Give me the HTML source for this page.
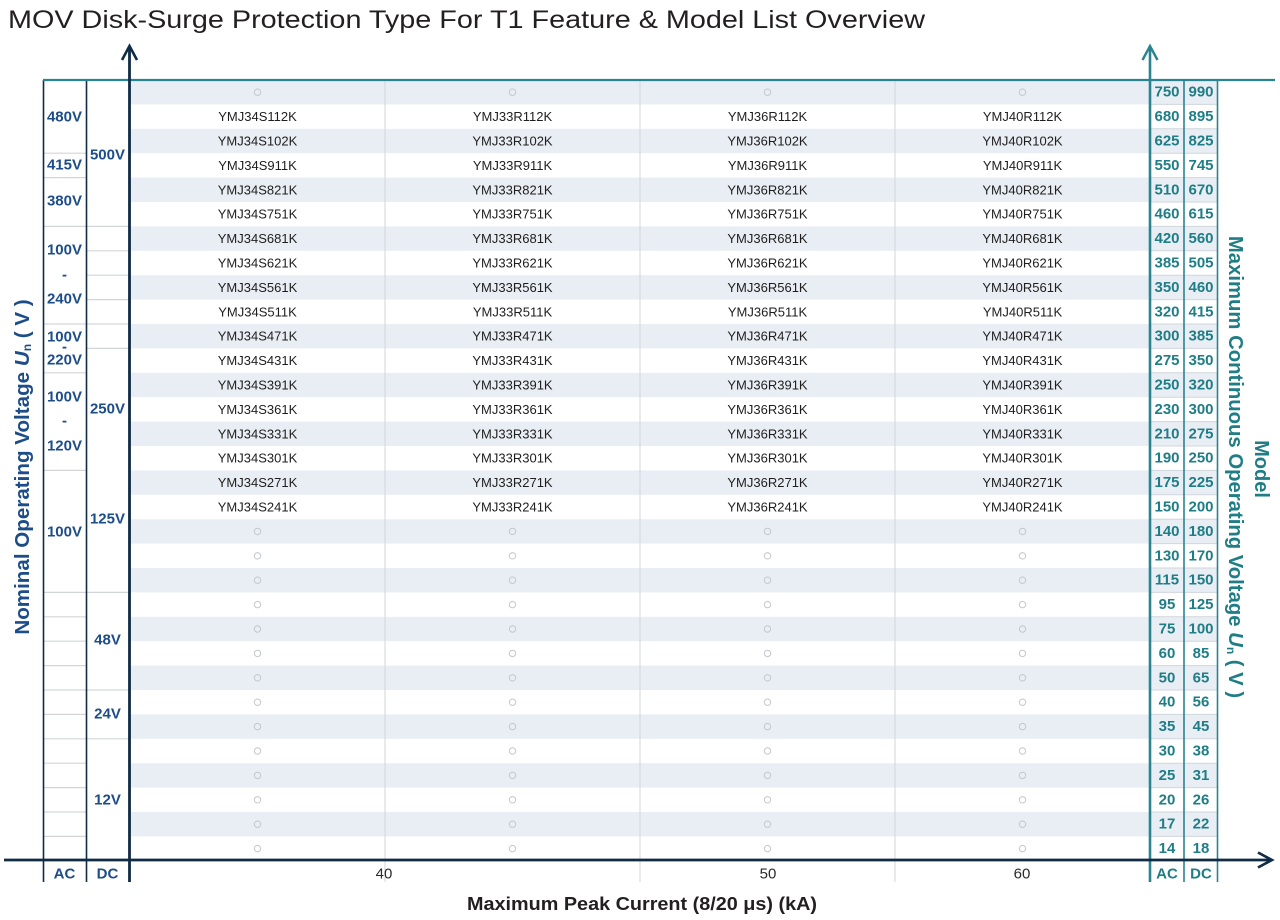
<!DOCTYPE html>
<html><head><meta charset="utf-8"><style>
html,body{margin:0;padding:0;background:#fff;}
svg{display:block;}
</style></head><body>
<svg width="1280" height="920" viewBox="0 0 1280 920" xmlns="http://www.w3.org/2000/svg" font-family="Liberation Sans, Arial, sans-serif">
<rect width="1280" height="920" fill="#fff"/>
<!-- title -->
<text x="8" y="28" font-size="25" fill="#231f20" textLength="917" lengthAdjust="spacingAndGlyphs">MOV Disk-Surge Protection Type For T1 Feature &amp; Model List Overview</text>

<!-- stripes -->
<g fill="#e9eef4">
<rect x="130" y="80" width="1088" height="24.4"/>
<rect x="130" y="128.8" width="1088" height="24.4"/>
<rect x="130" y="177.6" width="1088" height="24.4"/>
<rect x="130" y="226.4" width="1088" height="24.4"/>
<rect x="130" y="275.2" width="1088" height="24.4"/>
<rect x="130" y="324" width="1088" height="24.4"/>
<rect x="130" y="372.8" width="1088" height="24.4"/>
<rect x="130" y="421.6" width="1088" height="24.4"/>
<rect x="130" y="470.4" width="1088" height="24.4"/>
<rect x="130" y="519.2" width="1088" height="24.4"/>
<rect x="130" y="568" width="1088" height="24.4"/>
<rect x="130" y="616.8" width="1088" height="24.4"/>
<rect x="130" y="665.6" width="1088" height="24.4"/>
<rect x="130" y="714.4" width="1088" height="24.4"/>
<rect x="130" y="763.2" width="1088" height="24.4"/>
<rect x="130" y="812" width="1088" height="24.4"/>
</g>

<!-- vertical gridlines -->
<g stroke="#d2d6db" stroke-width="1">
<line x1="385" y1="81" x2="385" y2="882"/>
<line x1="640" y1="81" x2="640" y2="882"/>
<line x1="895" y1="81" x2="895" y2="882"/>
</g>

<!-- right column separators -->
<g stroke="#cfd6dc" stroke-width="1">
<line x1="1150" y1="104.4" x2="1218" y2="104.4"/>
<line x1="1150" y1="128.8" x2="1218" y2="128.8"/>
<line x1="1150" y1="153.2" x2="1218" y2="153.2"/>
<line x1="1150" y1="177.6" x2="1218" y2="177.6"/>
<line x1="1150" y1="202" x2="1218" y2="202"/>
<line x1="1150" y1="226.4" x2="1218" y2="226.4"/>
<line x1="1150" y1="250.8" x2="1218" y2="250.8"/>
<line x1="1150" y1="275.2" x2="1218" y2="275.2"/>
<line x1="1150" y1="299.6" x2="1218" y2="299.6"/>
<line x1="1150" y1="324" x2="1218" y2="324"/>
<line x1="1150" y1="348.4" x2="1218" y2="348.4"/>
<line x1="1150" y1="372.8" x2="1218" y2="372.8"/>
<line x1="1150" y1="397.2" x2="1218" y2="397.2"/>
<line x1="1150" y1="421.6" x2="1218" y2="421.6"/>
<line x1="1150" y1="446" x2="1218" y2="446"/>
<line x1="1150" y1="470.4" x2="1218" y2="470.4"/>
<line x1="1150" y1="494.8" x2="1218" y2="494.8"/>
<line x1="1150" y1="519.2" x2="1218" y2="519.2"/>
<line x1="1150" y1="543.6" x2="1218" y2="543.6"/>
<line x1="1150" y1="568" x2="1218" y2="568"/>
<line x1="1150" y1="592.4" x2="1218" y2="592.4"/>
<line x1="1150" y1="616.8" x2="1218" y2="616.8"/>
<line x1="1150" y1="641.2" x2="1218" y2="641.2"/>
<line x1="1150" y1="665.6" x2="1218" y2="665.6"/>
<line x1="1150" y1="690" x2="1218" y2="690"/>
<line x1="1150" y1="714.4" x2="1218" y2="714.4"/>
<line x1="1150" y1="738.8" x2="1218" y2="738.8"/>
<line x1="1150" y1="763.2" x2="1218" y2="763.2"/>
<line x1="1150" y1="787.6" x2="1218" y2="787.6"/>
<line x1="1150" y1="812" x2="1218" y2="812"/>
<line x1="1150" y1="836.4" x2="1218" y2="836.4"/>
</g>

<!-- left separators -->
<g stroke="#d3d6d9" stroke-width="1.2">
<line x1="43" y1="153.2" x2="86" y2="153.2"/>
<line x1="43" y1="177.6" x2="86" y2="177.6"/>
<line x1="43" y1="226.4" x2="129" y2="226.4"/>
<line x1="86" y1="250.8" x2="129" y2="250.8"/>
<line x1="86" y1="275.2" x2="129" y2="275.2"/>
<line x1="86" y1="299.6" x2="129" y2="299.6"/>
<line x1="43" y1="324" x2="129" y2="324"/>
<line x1="86" y1="348.4" x2="129" y2="348.4"/>
<line x1="43" y1="372.8" x2="86" y2="372.8"/>
<line x1="43" y1="470.4" x2="86" y2="470.4"/>
<line x1="43" y1="592.4" x2="129" y2="592.4"/>
<line x1="43" y1="616.8" x2="86" y2="616.8"/>
<line x1="43" y1="641.2" x2="86" y2="641.2"/>
<line x1="43" y1="665.6" x2="86" y2="665.6"/>
<line x1="43" y1="690" x2="129" y2="690"/>
<line x1="43" y1="714.4" x2="86" y2="714.4"/>
<line x1="43" y1="738.8" x2="129" y2="738.8"/>
<line x1="43" y1="763.2" x2="86" y2="763.2"/>
<line x1="43" y1="787.6" x2="86" y2="787.6"/>
<line x1="43" y1="812" x2="86" y2="812"/>
<line x1="43" y1="836.4" x2="86" y2="836.4"/>
</g>

<!-- circles -->
<g fill="none" stroke="#c4c7cb" stroke-width="1">
<circle cx="257.5" cy="92.2" r="3.2"/><circle cx="512.5" cy="92.2" r="3.2"/><circle cx="767.5" cy="92.2" r="3.2"/><circle cx="1022.5" cy="92.2" r="3.2"/>
<circle cx="257.5" cy="531.4" r="3.2"/><circle cx="512.5" cy="531.4" r="3.2"/><circle cx="767.5" cy="531.4" r="3.2"/><circle cx="1022.5" cy="531.4" r="3.2"/>
<circle cx="257.5" cy="555.8" r="3.2"/><circle cx="512.5" cy="555.8" r="3.2"/><circle cx="767.5" cy="555.8" r="3.2"/><circle cx="1022.5" cy="555.8" r="3.2"/>
<circle cx="257.5" cy="580.2" r="3.2"/><circle cx="512.5" cy="580.2" r="3.2"/><circle cx="767.5" cy="580.2" r="3.2"/><circle cx="1022.5" cy="580.2" r="3.2"/>
<circle cx="257.5" cy="604.6" r="3.2"/><circle cx="512.5" cy="604.6" r="3.2"/><circle cx="767.5" cy="604.6" r="3.2"/><circle cx="1022.5" cy="604.6" r="3.2"/>
<circle cx="257.5" cy="629" r="3.2"/><circle cx="512.5" cy="629" r="3.2"/><circle cx="767.5" cy="629" r="3.2"/><circle cx="1022.5" cy="629" r="3.2"/>
<circle cx="257.5" cy="653.4" r="3.2"/><circle cx="512.5" cy="653.4" r="3.2"/><circle cx="767.5" cy="653.4" r="3.2"/><circle cx="1022.5" cy="653.4" r="3.2"/>
<circle cx="257.5" cy="677.8" r="3.2"/><circle cx="512.5" cy="677.8" r="3.2"/><circle cx="767.5" cy="677.8" r="3.2"/><circle cx="1022.5" cy="677.8" r="3.2"/>
<circle cx="257.5" cy="702.2" r="3.2"/><circle cx="512.5" cy="702.2" r="3.2"/><circle cx="767.5" cy="702.2" r="3.2"/><circle cx="1022.5" cy="702.2" r="3.2"/>
<circle cx="257.5" cy="726.6" r="3.2"/><circle cx="512.5" cy="726.6" r="3.2"/><circle cx="767.5" cy="726.6" r="3.2"/><circle cx="1022.5" cy="726.6" r="3.2"/>
<circle cx="257.5" cy="751" r="3.2"/><circle cx="512.5" cy="751" r="3.2"/><circle cx="767.5" cy="751" r="3.2"/><circle cx="1022.5" cy="751" r="3.2"/>
<circle cx="257.5" cy="775.4" r="3.2"/><circle cx="512.5" cy="775.4" r="3.2"/><circle cx="767.5" cy="775.4" r="3.2"/><circle cx="1022.5" cy="775.4" r="3.2"/>
<circle cx="257.5" cy="799.8" r="3.2"/><circle cx="512.5" cy="799.8" r="3.2"/><circle cx="767.5" cy="799.8" r="3.2"/><circle cx="1022.5" cy="799.8" r="3.2"/>
<circle cx="257.5" cy="824.2" r="3.2"/><circle cx="512.5" cy="824.2" r="3.2"/><circle cx="767.5" cy="824.2" r="3.2"/><circle cx="1022.5" cy="824.2" r="3.2"/>
<circle cx="257.5" cy="848.6" r="3.2"/><circle cx="512.5" cy="848.6" r="3.2"/><circle cx="767.5" cy="848.6" r="3.2"/><circle cx="1022.5" cy="848.6" r="3.2"/>
</g>

<!-- model names -->
<g font-size="13" fill="#1e1e1e" text-anchor="middle" dominant-baseline="central">
<text x="257.5" y="116.6">YMJ34S112K</text><text x="512.5" y="116.6">YMJ33R112K</text><text x="767.5" y="116.6">YMJ36R112K</text><text x="1022.5" y="116.6">YMJ40R112K</text>
<text x="257.5" y="141">YMJ34S102K</text><text x="512.5" y="141">YMJ33R102K</text><text x="767.5" y="141">YMJ36R102K</text><text x="1022.5" y="141">YMJ40R102K</text>
<text x="257.5" y="165.4">YMJ34S911K</text><text x="512.5" y="165.4">YMJ33R911K</text><text x="767.5" y="165.4">YMJ36R911K</text><text x="1022.5" y="165.4">YMJ40R911K</text>
<text x="257.5" y="189.8">YMJ34S821K</text><text x="512.5" y="189.8">YMJ33R821K</text><text x="767.5" y="189.8">YMJ36R821K</text><text x="1022.5" y="189.8">YMJ40R821K</text>
<text x="257.5" y="214.2">YMJ34S751K</text><text x="512.5" y="214.2">YMJ33R751K</text><text x="767.5" y="214.2">YMJ36R751K</text><text x="1022.5" y="214.2">YMJ40R751K</text>
<text x="257.5" y="238.6">YMJ34S681K</text><text x="512.5" y="238.6">YMJ33R681K</text><text x="767.5" y="238.6">YMJ36R681K</text><text x="1022.5" y="238.6">YMJ40R681K</text>
<text x="257.5" y="263">YMJ34S621K</text><text x="512.5" y="263">YMJ33R621K</text><text x="767.5" y="263">YMJ36R621K</text><text x="1022.5" y="263">YMJ40R621K</text>
<text x="257.5" y="287.4">YMJ34S561K</text><text x="512.5" y="287.4">YMJ33R561K</text><text x="767.5" y="287.4">YMJ36R561K</text><text x="1022.5" y="287.4">YMJ40R561K</text>
<text x="257.5" y="311.8">YMJ34S511K</text><text x="512.5" y="311.8">YMJ33R511K</text><text x="767.5" y="311.8">YMJ36R511K</text><text x="1022.5" y="311.8">YMJ40R511K</text>
<text x="257.5" y="336.2">YMJ34S471K</text><text x="512.5" y="336.2">YMJ33R471K</text><text x="767.5" y="336.2">YMJ36R471K</text><text x="1022.5" y="336.2">YMJ40R471K</text>
<text x="257.5" y="360.6">YMJ34S431K</text><text x="512.5" y="360.6">YMJ33R431K</text><text x="767.5" y="360.6">YMJ36R431K</text><text x="1022.5" y="360.6">YMJ40R431K</text>
<text x="257.5" y="385">YMJ34S391K</text><text x="512.5" y="385">YMJ33R391K</text><text x="767.5" y="385">YMJ36R391K</text><text x="1022.5" y="385">YMJ40R391K</text>
<text x="257.5" y="409.4">YMJ34S361K</text><text x="512.5" y="409.4">YMJ33R361K</text><text x="767.5" y="409.4">YMJ36R361K</text><text x="1022.5" y="409.4">YMJ40R361K</text>
<text x="257.5" y="433.8">YMJ34S331K</text><text x="512.5" y="433.8">YMJ33R331K</text><text x="767.5" y="433.8">YMJ36R331K</text><text x="1022.5" y="433.8">YMJ40R331K</text>
<text x="257.5" y="458.2">YMJ34S301K</text><text x="512.5" y="458.2">YMJ33R301K</text><text x="767.5" y="458.2">YMJ36R301K</text><text x="1022.5" y="458.2">YMJ40R301K</text>
<text x="257.5" y="482.6">YMJ34S271K</text><text x="512.5" y="482.6">YMJ33R271K</text><text x="767.5" y="482.6">YMJ36R271K</text><text x="1022.5" y="482.6">YMJ40R271K</text>
<text x="257.5" y="507">YMJ34S241K</text><text x="512.5" y="507">YMJ33R241K</text><text x="767.5" y="507">YMJ36R241K</text><text x="1022.5" y="507">YMJ40R241K</text>
</g>

<!-- right values -->
<g font-size="15" font-weight="bold" fill="#1f7d86" text-anchor="middle" dominant-baseline="central">
<text x="1167" y="92.2">750</text><text x="1201" y="92.2">990</text>
<text x="1167" y="116.6">680</text><text x="1201" y="116.6">895</text>
<text x="1167" y="141">625</text><text x="1201" y="141">825</text>
<text x="1167" y="165.4">550</text><text x="1201" y="165.4">745</text>
<text x="1167" y="189.8">510</text><text x="1201" y="189.8">670</text>
<text x="1167" y="214.2">460</text><text x="1201" y="214.2">615</text>
<text x="1167" y="238.6">420</text><text x="1201" y="238.6">560</text>
<text x="1167" y="263">385</text><text x="1201" y="263">505</text>
<text x="1167" y="287.4">350</text><text x="1201" y="287.4">460</text>
<text x="1167" y="311.8">320</text><text x="1201" y="311.8">415</text>
<text x="1167" y="336.2">300</text><text x="1201" y="336.2">385</text>
<text x="1167" y="360.6">275</text><text x="1201" y="360.6">350</text>
<text x="1167" y="385">250</text><text x="1201" y="385">320</text>
<text x="1167" y="409.4">230</text><text x="1201" y="409.4">300</text>
<text x="1167" y="433.8">210</text><text x="1201" y="433.8">275</text>
<text x="1167" y="458.2">190</text><text x="1201" y="458.2">250</text>
<text x="1167" y="482.6">175</text><text x="1201" y="482.6">225</text>
<text x="1167" y="507">150</text><text x="1201" y="507">200</text>
<text x="1167" y="531.4">140</text><text x="1201" y="531.4">180</text>
<text x="1167" y="555.8">130</text><text x="1201" y="555.8">170</text>
<text x="1167" y="580.2">115</text><text x="1201" y="580.2">150</text>
<text x="1167" y="604.6">95</text><text x="1201" y="604.6">125</text>
<text x="1167" y="629">75</text><text x="1201" y="629">100</text>
<text x="1167" y="653.4">60</text><text x="1201" y="653.4">85</text>
<text x="1167" y="677.8">50</text><text x="1201" y="677.8">65</text>
<text x="1167" y="702.2">40</text><text x="1201" y="702.2">56</text>
<text x="1167" y="726.6">35</text><text x="1201" y="726.6">45</text>
<text x="1167" y="751">30</text><text x="1201" y="751">38</text>
<text x="1167" y="775.4">25</text><text x="1201" y="775.4">31</text>
<text x="1167" y="799.8">20</text><text x="1201" y="799.8">26</text>
<text x="1167" y="824.2">17</text><text x="1201" y="824.2">22</text>
<text x="1167" y="848.6">14</text><text x="1201" y="848.6">18</text>
<text x="1167" y="874">AC</text><text x="1201" y="874">DC</text>
</g>

<!-- left values -->
<g font-size="15" font-weight="bold" fill="#1d4d88" text-anchor="middle" dominant-baseline="central">
<text x="64.5" y="117">480V</text>
<text x="64.5" y="165">415V</text>
<text x="64.5" y="201">380V</text>
<text x="64.5" y="250">100V</text>
<text x="64.5" y="275">-</text>
<text x="64.5" y="299">240V</text>
<text x="64.5" y="337">100V</text>
<text x="64.5" y="347">-</text>
<text x="64.5" y="360">220V</text>
<text x="64.5" y="397">100V</text>
<text x="64.5" y="421">-</text>
<text x="64.5" y="446">120V</text>
<text x="64.5" y="532">100V</text>
<text x="107.5" y="155">500V</text>
<text x="107.5" y="409">250V</text>
<text x="107.5" y="519">125V</text>
<text x="107.5" y="640">48V</text>
<text x="107.5" y="714">24V</text>
<text x="107.5" y="800">12V</text>
<text x="64.5" y="874">AC</text>
<text x="107.5" y="874">DC</text>
</g>

<!-- left structural lines -->
<g stroke="#0f2b45" stroke-width="1.6">
<line x1="43.5" y1="80" x2="43.5" y2="882"/>
<line x1="86.5" y1="80" x2="86.5" y2="882"/>
</g>
<!-- teal top line -->
<line x1="43" y1="80" x2="1275" y2="80" stroke="#2a8490" stroke-width="2.2"/>
<!-- right teal lines -->
<g stroke="#2a8490">
<line x1="1150" y1="47" x2="1150" y2="882" stroke-width="2.6"/>
<line x1="1184" y1="80" x2="1184" y2="882" stroke-width="1.6"/>
<line x1="1217.5" y1="80" x2="1217.5" y2="882" stroke-width="1.6"/>
<polyline points="1142.5,60 1150,46 1157.5,60" fill="none" stroke-width="2.4"/>
</g>
<!-- dark axes -->
<g stroke="#0f2b45" fill="none">
<line x1="129.5" y1="47" x2="129.5" y2="882" stroke-width="2.8"/>
<polyline points="122,60 129.5,46 137,60" stroke-width="2.6"/>
<line x1="4" y1="860" x2="1270" y2="860" stroke-width="2.8"/>
<polyline points="1258,852.5 1272,860 1258,867.5" stroke-width="2.6"/>
</g>

<!-- x tick labels -->
<g font-size="15" fill="#2a2a2a" text-anchor="middle" dominant-baseline="central">
<text x="384" y="874">40</text>
<text x="768" y="874">50</text>
<text x="1022" y="874">60</text>
</g>
<!-- x axis title -->
<text x="467" y="910" font-size="18" font-weight="bold" fill="#231f20" textLength="350" lengthAdjust="spacingAndGlyphs">Maximum Peak Current (8/20 μs) (kA)</text>

<!-- left axis title -->
<text transform="translate(29,467) rotate(-90)" text-anchor="middle" font-size="20.6" font-weight="bold" fill="#1d4d88">Nominal Operating Voltage <tspan font-style="italic">U</tspan><tspan font-size="12" dy="2">n</tspan><tspan dy="-2"> ( V )</tspan></text>
<!-- right axis titles -->
<text transform="translate(1229,467) rotate(90)" text-anchor="middle" font-size="20.3" font-weight="bold" fill="#1f7d86">Maximum Continuous Operating Voltage <tspan font-style="italic">U</tspan><tspan font-size="12" dy="2">n</tspan><tspan dy="-2"> ( V )</tspan></text>
<text transform="translate(1255,469) rotate(90)" text-anchor="middle" font-size="20" font-weight="bold" fill="#1f7d86">Model</text>
</svg>
</body></html>
